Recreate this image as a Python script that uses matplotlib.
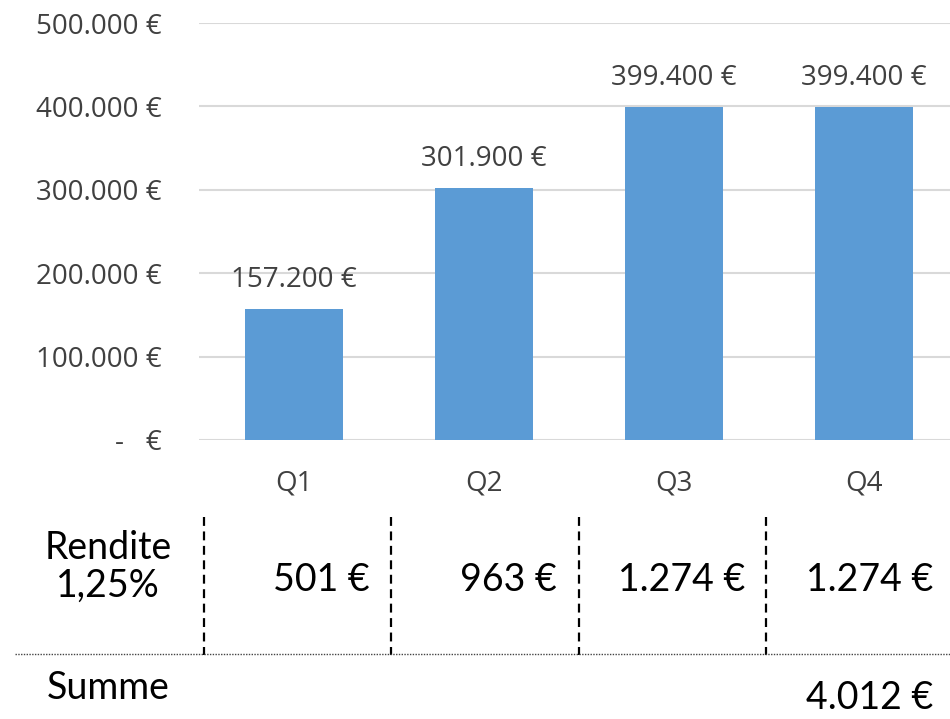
import matplotlib.pyplot as plt
from matplotlib.lines import Line2D

W, H = 950, 719

quarters = ["Q1", "Q2", "Q3", "Q4"]
kapital = [157200, 301900, 399400, 399400]
rendite = ["501 €", "963 €", "1.274 €", "1.274 €"]
y_ticks = [0, 100000, 200000, 300000, 400000, 500000]
y_tick_labels = ["-   €", "100.000 €", "200.000 €", "300.000 €", "400.000 €", "500.000 €"]
summe = "4.012 €"

BAR_COLOR = "#5b9bd5"
TEXT_GREY = "#404040"


def px(x, y):
    # pixel position -> figure fraction
    return x / W, 1 - y / H


def eur(v):
    return f"{v:,.0f} €".replace(",", ".")


plt.rcParams["font.family"] = ["Open Sans", "DejaVu Sans"]

fig = plt.figure(figsize=(W / 100, H / 100), dpi=100)
left, top = px(199, 23)
_, bottom = px(199, 440)
ax = fig.add_axes([left, bottom, 1 - left, top - bottom])

x = range(len(quarters))
ax.bar(x, kapital, width=0.52, color=BAR_COLOR, zorder=3)
for xi, v in zip(x, kapital):
    ax.annotate(eur(v), (xi, v), textcoords="offset points", xytext=(0, 21),
                ha="center", va="center", fontsize=20, color=TEXT_GREY)

ax.set_ylim(0, 500000)
ax.set_xlim(-0.5, 3.453)
ax.set_yticks(y_ticks)
ax.set_yticklabels(y_tick_labels)
ax.set_xticks(list(x))
ax.set_xticklabels(quarters)
ax.tick_params(axis="y", length=0, pad=27, labelsize=20, labelcolor=TEXT_GREY)
ax.tick_params(axis="x", length=0, pad=21, labelsize=20, labelcolor=TEXT_GREY)
ax.grid(axis="y", color="#d9d9d9", linewidth=1.5, zorder=0)
for s in ax.spines.values():
    s.set_visible(False)

# ---- table below the chart ----
for xv in [204, 391, 579, 766]:
    x0, y0 = px(xv, 517)
    _, y1 = px(xv, 655)
    fig.add_artist(Line2D([x0, x0], [y0, y1], color="black", linewidth=1.6,
                          linestyle=(0, (4, 2.5))))
x0, yh = px(15, 654)
fig.add_artist(Line2D([x0, 1], [yh, yh], color="#444444", linewidth=1.0,
                      linestyle=(0, (1, 1))))

tfont = ["Lato", "DejaVu Sans"]
fig.text(*px(108, 567), "Rendite\n1,25%", ha="center", va="center",
         fontsize=27, family=tfont, linespacing=1.05)
for xr, txt in zip([370, 557, 745, 933], rendite):
    fig.text(*px(xr, 580), txt, ha="right", va="center", fontsize=27, family=tfont)
fig.text(*px(47, 688), "Summe", ha="left", va="center", fontsize=27, family=tfont)
fig.text(*px(933, 698), summe, ha="right", va="center", fontsize=27, family=tfont)

fig.savefig("out.png", dpi=100)
